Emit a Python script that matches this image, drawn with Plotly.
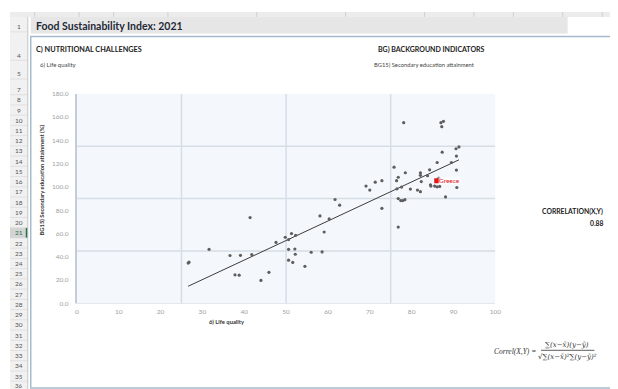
import plotly.graph_objects as go
import numpy as np

W, H = 618, 389

# ---------------- data ----------------
life_quality = [26.6, 26.8, 31.6, 36.6, 39.1, 37.8, 38.8, 41.4, 41.8, 44.0, 45.9, 47.6, 49.8, 50.6,
                51.3, 52.3, 50.6, 52.1, 52.2, 50.6, 51.6, 54.5, 56.0, 58.6, 59.1, 58.1, 60.3, 61.7,
                62.8,
                78.1, 87.0, 87.6, 87.2, 90.6, 91.3, 87.3, 90.7, 86.1, 89.5, 90.7, 84.3, 75.8, 78.5,
                82.1, 82.1, 83.8, 76.8, 76.4, 82.3, 72.9, 71.3, 69.1, 70.0, 77.6, 76.5, 79.7, 81.4,
                82.1, 86.5, 84.5, 84.6, 85.5, 86.1, 86.7, 90.8, 88.1, 72.9, 76.8, 77.4, 77.9, 78.4,
                76.8]
secondary_edu = [34.6, 35.4, 46.4, 41.1, 41.3, 24.5, 24.2, 73.7, 41.9, 19.7, 26.7, 52.3, 56.8, 54.8,
                 59.9, 58.5, 46.4, 46.7, 42.2, 37.1, 35.2, 31.8, 43.9, 44.2, 61.3, 75.1, 72.5, 89.2,
                 84.3,
                 155.2, 155.2, 156.4, 151.8, 132.8, 134.4, 129.9, 126.5, 121.0, 121.0, 114.5, 114.7,
                 117.0, 112.2, 112.2, 110.0, 109.6, 108.3, 105.4, 104.6, 105.4, 104.1, 100.7, 97.3,
                 99.9, 98.4, 98.2, 97.3, 95.9, 107.5, 101.8, 100.7, 100.7, 100.1, 100.4, 99.5, 91.4,
                 81.6, 90.0, 88.3, 88.3, 89.1, 65.5]
highlight_name = "Greece"
highlight_x = [86.0]
highlight_y = [105.4]
correlation_text = "0.88"
x_ticks = [0, 10, 20, 30, 40, 50, 60, 70, 80, 90, 100]
y_ticks = [0, 20, 40, 60, 80, 100, 120, 140, 160, 180]
quad_x = [25, 50, 75]
quad_y = [45, 90, 135]
row_numbers = [1, 4, 5] + list(range(7, 37))

# ---------------- helpers ----------------
def px(x):
    return x / W

def py(y):
    return 1 - y / H

all_x = np.array(life_quality + highlight_x)
all_y = np.array(secondary_edu + highlight_y)
slope, intercept = np.polyfit(all_x, all_y, 1)
tx = np.array([all_x.min(), all_x.max()])
ty = slope * tx + intercept

fig = go.Figure()
fig.add_trace(go.Scatter(x=tx, y=ty, mode="lines", line=dict(color="#3c3c3c", width=1),
                         hoverinfo="skip", showlegend=False))
fig.add_trace(go.Scatter(x=life_quality, y=secondary_edu, mode="markers",
                         marker=dict(size=3.2, color="#5e5e5e"), showlegend=False))
fig.add_trace(go.Scatter(x=highlight_x, y=highlight_y, mode="markers",
                         marker=dict(size=5, color="#e3161b", symbol="square"), showlegend=False))

shapes = []
for v in quad_x:
    shapes.append(dict(type="line", xref="x", yref="y", x0=v, x1=v, y0=0, y1=180,
                       line=dict(color="#d5dde6", width=1.5), layer="below"))
for v in quad_y:
    shapes.append(dict(type="line", xref="x", yref="y", x0=0, x1=100, y0=v, y1=v,
                       line=dict(color="#d5dde6", width=1.5), layer="below"))

# spreadsheet chrome: column header strip
shapes.append(dict(type="rect", xref="paper", yref="paper", x0=0, x1=1, y0=py(5), y1=1,
                   fillcolor="#ececec", line=dict(width=0), layer="below"))
for cx in [25, 70, 105, 160, 250, 340, 420, 470, 510, 560, 600]:
    shapes.append(dict(type="line", xref="paper", yref="paper", x0=px(cx), x1=px(cx),
                       y0=py(5), y1=1, line=dict(color="#d0d0d0", width=1), layer="below"))
# row header column
shapes.append(dict(type="rect", xref="paper", yref="paper", x0=0, x1=px(18), y0=0, y1=py(5),
                   fillcolor="#f1f1f1", line=dict(width=0), layer="below"))
row_y = {1: 15, 4: 44, 5: 63}
for n in range(7, 38):
    row_y[n] = 79 + (n - 7) * 10.42
shapes.append(dict(type="rect", xref="paper", yref="paper", x0=0, x1=px(18),
                   y0=py(row_y[21] + 5.2), y1=py(row_y[21] - 5.2),
                   fillcolor="#d4d4d4", line=dict(width=0), layer="below"))
shapes.append(dict(type="line", xref="paper", yref="paper", x0=px(17), x1=px(17),
                   y0=py(row_y[21] + 5.2), y1=py(row_y[21] - 5.2),
                   line=dict(color="#217346", width=2), layer="below"))
for n, yy in row_y.items():
    shapes.append(dict(type="line", xref="paper", yref="paper", x0=0, x1=px(18),
                       y0=py(yy + 5.2), y1=py(yy + 5.2),
                       line=dict(color="#dadada", width=0.7), layer="below"))
shapes.append(dict(type="line", xref="paper", yref="paper", x0=px(18), x1=px(18), y0=0, y1=py(5),
                   line=dict(color="#c6c6c6", width=1), layer="below"))
# title bar
shapes.append(dict(type="rect", xref="paper", yref="paper", x0=px(21), x1=px(565), y0=py(22), y1=py(5),
                   fillcolor="#e7e6e6", line=dict(width=0), layer="below"))
# sheet box
shapes.append(dict(type="rect", xref="paper", yref="paper", x0=px(21), x1=px(612), y0=py(383), y1=py(25),
                   fillcolor="rgba(0,0,0,0)", line=dict(color="#a7bacd", width=1.5), layer="below"))
# formula fraction bar
shapes.append(dict(type="line", xref="paper", yref="paper", x0=px(538), x1=px(592), y0=py(344.5), y1=py(344.5),
                   line=dict(color="#333333", width=0.8)))

ann = []
def text(x, y, s, size=7, color="#333333", bold=False, xanchor="left", family="Lato", italic=False,
         textangle=0, yanchor="middle", pad=1):
    if bold:
        s = "<b>" + s + "</b>"
    if italic:
        s = "<i>" + s + "</i>"
    ann.append(dict(x=px(x), y=py(y), xref="paper", yref="paper", text=s, showarrow=False,
                    xanchor=xanchor, yanchor=yanchor, textangle=textangle, borderpad=pad,
                    font=dict(size=size, color=color, family=family)))

for n in row_numbers:
    text(9, row_y[n] - (1.0 if n == 36 else 0), str(n), size=6.5 if n < 36 else 6,
         color="#217346" if n == 21 else "#555555", xanchor="center", pad=0)

text(24, 14, "Food Sustainability Index: 2021", size=10.5, color="#1e2a38", bold=True)
text(24, 38, "C) NUTRITIONAL CHALLENGES", size=7.3, color="#222222", bold=True)
text(28, 53, "6) Life quality", size=6, color="#444444")
text(427, 38, "BG) BACKGROUND INDICATORS", size=7, color="#222222", bold=True, xanchor="center")
text(420, 53, "BG15) Secondary education attainment", size=5.8, color="#444444", xanchor="center")
text(32, 171, "BG15) Secondary education attainment (%)", size=5.8, color="#333333", bold=True,
     xanchor="center", textangle=-90)
text(220, 315, "6) Life quality", size=5.8, color="#333333", bold=True, xanchor="center")
text(603, 203, "CORRELATION(X,Y)", size=6.8, color="#222222", bold=True, xanchor="right")
text(603, 215, correlation_text, size=6.8, color="#222222", bold=True, xanchor="right")
text(535, 346, "Correl(X,Y) =", size=7.5, color="#333333", italic=True, xanchor="right",
     family="Liberation Serif")
text(564, 339, "∑(x−x̄)(y−ȳ)", size=7, color="#333333", italic=True, xanchor="center",
     family="DejaVu Serif")
text(565, 351, "√∑(x−x̄)²∑(y−ȳ)²", size=7, color="#333333", italic=True, xanchor="center",
     family="DejaVu Serif")

ann.append(dict(x=highlight_x[0] + 0.4, y=highlight_y[0], xref="x", yref="y", text=highlight_name,
                showarrow=False, xanchor="left", yanchor="middle", bgcolor="rgba(255,255,255,0.6)",
                borderpad=0, font=dict(size=6.5, color="#e3161b", family="Lato")))

fig.update_layout(
    width=W, height=H,
    margin=dict(l=0, r=0, t=0, b=0),
    paper_bgcolor="white",
    plot_bgcolor="#f4f8fc",
    shapes=shapes,
    annotations=ann,
    showlegend=False,
    xaxis=dict(domain=[px(67.7), px(491.7)], range=[0, 100], tickvals=x_ticks,
               ticktext=[str(v) for v in x_ticks], showgrid=False, zeroline=False,
               showline=True, linecolor="#e2e8ee", linewidth=1, ticks="",
               tickfont=dict(size=6.5, color="#a0a0a0", family="Lato"), ticklabelstandoff=2),
    yaxis=dict(domain=[py(296.7), py(83.3)], range=[0, 180], tickvals=y_ticks,
               ticktext=[f"{v:.1f}" for v in y_ticks], showgrid=False, zeroline=False,
               showline=True, linecolor="#c4ccd5", linewidth=2, ticks="",
               tickfont=dict(size=6.5, color="#a0a0a0", family="Lato"), ticklabelstandoff=5),
)

fig.write_html("out.html")
